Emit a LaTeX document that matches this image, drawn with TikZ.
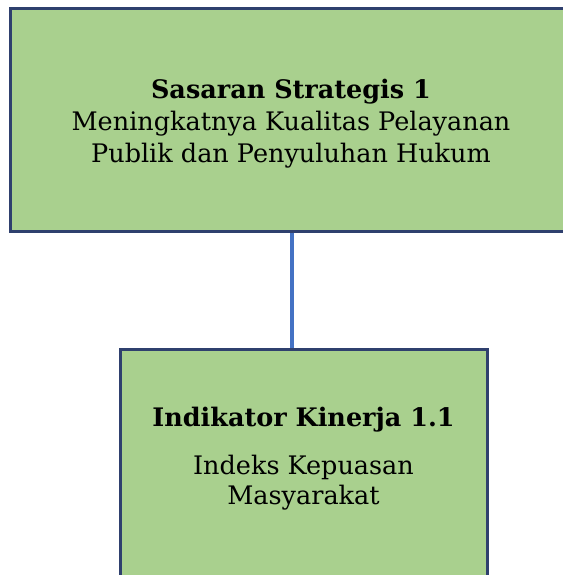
\documentclass[tikz,border=0pt]{standalone}
\usepackage{fontspec}
\setmainfont{DejaVu Serif}
\usepackage{tikz}
\usetikzlibrary{positioning, calc}
\definecolor{boxgreen}{RGB}{169, 208, 142}
\definecolor{navyedge}{RGB}{47, 64, 110}
\definecolor{linkblue}{RGB}{68, 114, 196}

\begin{document}
\begin{tikzpicture}[
    x=1pt, y=-1pt,
    goalbox/.style={rectangle, draw=navyedge, fill=boxgreen, line width=3pt,
                    inner sep=0pt},
    boxtext/.style={font=\fontsize{25.5}{32}\selectfont, align=center,
                    inner sep=0pt},
    link/.style={linkblue, line width=4pt},
]
\useasboundingbox (0,0) rectangle (562,575);

%% ── Sasaran Strategis ───────────────────────────────────────────────────────
\node[goalbox, minimum width=564pt, minimum height=222pt] (ss1) at (292,120) {};
\node[boxtext] (ss1txt) at (291,124)
    {\textbf{Sasaran Strategis 1}\\
     Meningkatnya Kualitas Pelayanan\\
     Publik dan Penyuluhan Hukum};

%% ── Indikator Kinerja ───────────────────────────────────────────────────────
\node[goalbox, minimum width=367pt, minimum height=300pt] (ik1) at (303.5,499) {};
\node[boxtext] (ik1txt) at (303.5,459)
    {\textbf{Indikator Kinerja 1.1}\\[16pt]
     Indeks Kepuasan\\[-2pt]
     Masyarakat};

%% ── Connector ───────────────────────────────────────────────────────────────
\draw[link] (ss1.south) -- (ss1.south |- ik1.north);

\end{tikzpicture}
\end{document}
